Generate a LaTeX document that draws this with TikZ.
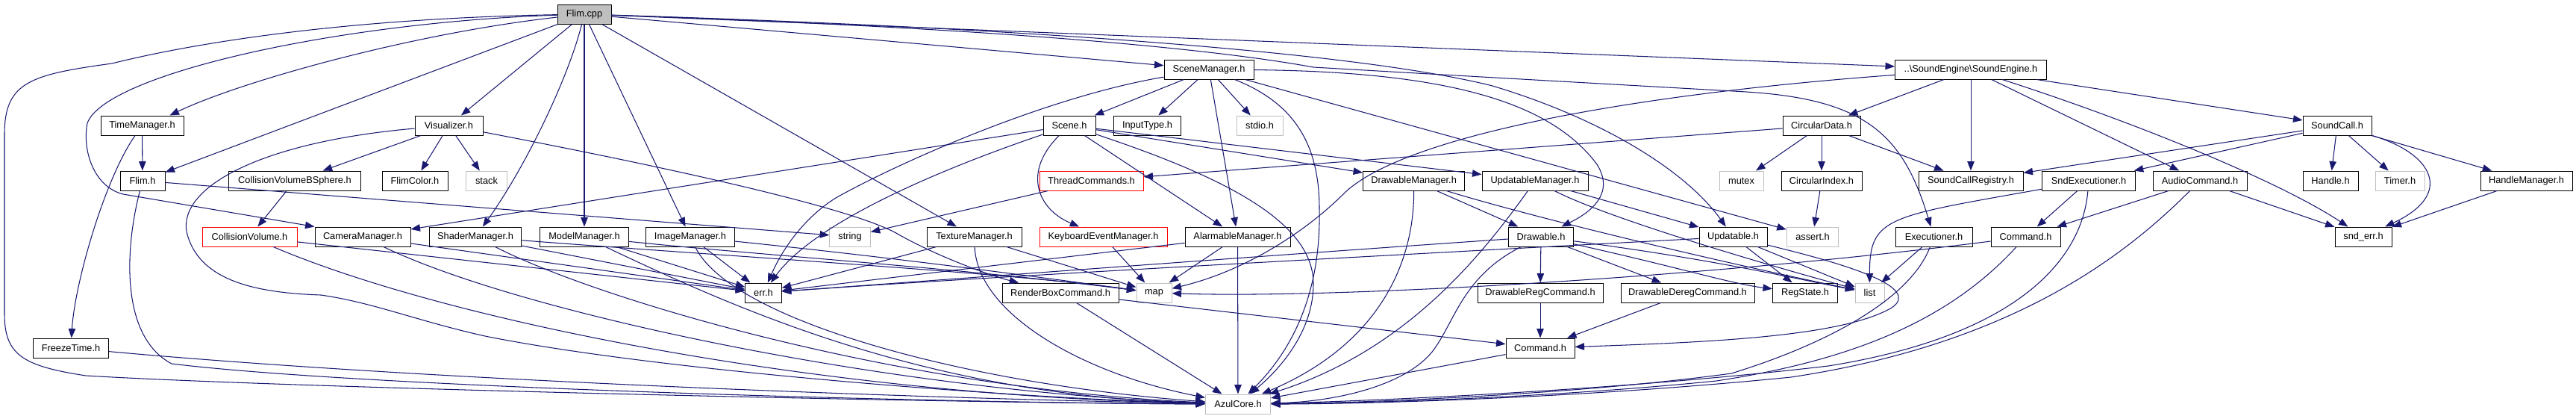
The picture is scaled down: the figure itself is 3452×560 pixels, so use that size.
\documentclass[tikz,border=0pt]{standalone}
\usepackage{fontspec}
\setmainfont{Liberation Sans}
\usetikzlibrary{arrows.meta}
\definecolor{eb}{HTML}{191970}
\definecolor{gb}{HTML}{BFBFBF}
\begin{document}
\begin{tikzpicture}[x=1pt,y=-1pt,
  nd/.style={draw=black, line width=1pt, fill=white, minimum height=26pt, inner sep=0pt, font=\fontsize{12.8}{14}\selectfont},
  gn/.style={nd, draw=gb},
  rn/.style={nd, draw=red},
  e/.style={draw=eb, line width=1.05pt, -{Triangle[length=12.5pt,width=9.5pt]}}]
\useasboundingbox (0,0) rectangle (3452,560);
% row 0
\node[nd, fill=gb, minimum width=72pt] (flimcpp) at (783,19) {Flim.cpp};
% row 1
\node[nd, minimum width=120pt] (scenemgr) at (1620,93) {SceneManager.h};
\node[nd, minimum width=203pt] (soundeng) at (2641,93) {..\textbackslash SoundEngine\textbackslash SoundEngine.h};
% row 2
\node[nd, minimum width=111pt] (timemgr) at (190.5,168) {TimeManager.h};
\node[nd, minimum width=91pt] (visualizer) at (601.5,168) {Visualizer.h};
\node[nd, minimum width=70pt] (scene) at (1433,168) {Scene.h};
\node[nd, minimum width=90pt] (inputtype) at (1537.5,168) {InputType.h};
\node[gn, minimum width=62pt] (stdio) at (1688,168) {stdio.h};
\node[nd, minimum width=104pt] (circdata) at (2441,168) {CircularData.h};
\node[nd, minimum width=92pt] (soundcall) at (3132,168) {SoundCall.h};
% row 3
\node[nd, minimum width=60pt] (flimh) at (191,242) {Flim.h};
\node[nd, minimum width=177pt] (cvbs) at (395,242) {CollisionVolumeBSphere.h};
\node[nd, minimum width=88pt] (flimcolor) at (556,242) {FlimColor.h};
\node[gn, minimum width=55pt] (stack) at (652,242) {stack};
\node[rn, minimum width=139pt] (threadcmds) at (1462.5,242) {ThreadCommands.h};
\node[nd, minimum width=136pt] (drawmgr) at (1894.6,242) {DrawableManager.h};
\node[nd, minimum width=142pt] (updmgr) at (2057,242) {UpdatableManager.h};
\node[gn, minimum width=59pt] (mutex) at (2333.5,242) {mutex};
\node[nd, minimum width=108pt] (circindex) at (2441,242) {CircularIndex.h};
\node[nd, minimum width=140pt] (screg) at (2641,242) {SoundCallRegistry.h};
\node[nd, minimum width=125.5pt] (sndexec) at (2799,242) {SndExecutioner.h};
\node[nd, minimum width=126pt] (audiocmd) at (2948,242) {AudioCommand.h};
\node[nd, minimum width=74pt] (handle) at (3123,242) {Handle.h};
\node[gn, minimum width=66pt] (timer) at (3216,242) {Timer.h};
\node[nd, minimum width=123pt] (handlemgr) at (3385.5,242) {HandleManager.h};
% row 4
\node[rn, minimum width=127pt] (cv) at (334.5,317) {CollisionVolume.h};
\node[nd, minimum width=128pt] (cammgr) at (486,317) {CameraManager.h};
\node[nd, minimum width=123.5pt] (shadermgr) at (637,317) {ShaderManager.h};
\node[nd, minimum width=118.5pt] (modelmgr) at (783,317) {ModelManager.h};
\node[nd, minimum width=118.5pt] (imagemgr) at (925,317) {ImageManager.h};
\node[gn, minimum width=54.5pt] (string) at (1139,317) {string};
\node[nd, minimum width=127pt] (texmgr) at (1305.5,317) {TextureManager.h};
\node[rn, minimum width=171pt] (kbmgr) at (1478.5,317) {KeyboardEventManager.h};
\node[nd, minimum width=141pt] (alarmmgr) at (1658.5,317) {AlarmableManager.h};
\node[nd, minimum width=86.5pt] (drawable) at (2065,317) {Drawable.h};
\node[nd, minimum width=91pt] (updatable) at (2322.5,317) {Updatable.h};
\node[gn, minimum width=69.5pt] (assert) at (2429,317) {assert.h};
\node[nd, minimum width=103pt] (executioner) at (2591.5,317) {Executioner.h};
\node[nd, minimum width=93pt] (cmdA) at (2714.5,317) {Command.h};
\node[nd, minimum width=76pt] (snderr) at (3167,317) {snd\_err.h};
% row 5
\node[nd, minimum width=48.5pt] (err) at (1023,392) {err.h};
\node[nd, minimum width=156pt] (renderbox) at (1421,392) {RenderBoxCommand.h};
\node[gn, minimum width=47pt] (map) at (1546.5,392) {map};
\node[nd, minimum width=168pt] (drawreg) at (2064,392) {DrawableRegCommand.h};
\node[nd, minimum width=179pt] (drawdereg) at (2261.5,392) {DrawableDeregCommand.h};
\node[nd, minimum width=87pt] (regstate) at (2419,392) {RegState.h};
\node[gn, minimum width=39pt] (list) at (2505.5,392) {list};
% row 6
\node[nd, minimum width=101pt] (freeze) at (95,466) {FreezeTime.h};
\node[nd, minimum width=92pt] (cmdB) at (2064,466) {Command.h};
% row 7
\node[gn, minimum width=87pt] (azul) at (1659,541) {AzulCore.h};

% ---- Flim.cpp
\draw[e] (flimcpp) .. controls (450,25) and (250,60) .. (150,85) .. controls (40,100) and (6,110) .. (6,180) -- (6,420) .. controls (6,475) and (30,490) .. (115,503) .. controls (400,520) and (1300,540) .. (azul);
\draw[e] (flimcpp) .. controls (450,30) and (140,100) .. (117,165) .. controls (110,200) and (125,250) .. (165,260) -- (cammgr.north west);
\draw[e] (flimcpp) .. controls (550,45) and (320,110) .. ([xshift=37pt]timemgr.north);
\draw[e] (flimcpp) -- (flimh);
\draw[e] (flimcpp) -- (visualizer);
\draw[e] (flimcpp) .. controls (760,110) and (700,230) .. (shadermgr);
\draw[e] (flimcpp) -- (modelmgr);
\draw[e] (flimcpp) -- (imagemgr);
\draw[e] (flimcpp) -- (texmgr);
\draw[e] (flimcpp) -- (scenemgr);
\draw[e] (flimcpp) -- (soundeng);
\draw[e] (flimcpp) .. controls (1300,35) and (1800,65) .. (2000,115) .. controls (2150,160) and (2260,230) .. (updatable);
\draw[e] (flimcpp) .. controls (1400,40) and (1650,70) .. (1760,90) .. controls (2000,104) and (2200,115) .. (2340,123) .. controls (2500,133) and (2550,180) .. (executioner);
% ---- SceneManager
\draw[e] (scenemgr) -- (scene);
\draw[e] (scenemgr) -- (inputtype);
\draw[e] (scenemgr) -- (stdio);
\draw[e] (scenemgr) -- (alarmmgr);
\draw[e] (scenemgr) .. controls (1740,140) and (1768,200) .. (1768,280) .. controls (1770,380) and (1740,460) .. (azul);
\draw[e] (scenemgr) .. controls (1400,130) and (1200,220) .. (1120,265) .. controls (1080,290) and (1050,330) .. (err);
\draw[e] (scenemgr) -- (assert);
\draw[e] (scenemgr) .. controls (1950,96) and (2080,140) .. (2140,220) .. controls (2165,260) and (2130,285) .. (drawable);
% ---- Scene
\draw[e] (scene) -- (cammgr);
\draw[e] (scene) .. controls (1250,230) and (1090,300) .. (err);
\draw[e] (scene) .. controls (1370,230) and (1390,280) .. (kbmgr);
\draw[e] (scene) -- (alarmmgr);
\draw[e] (scene) .. controls (1650,240) and (1760,300) .. (1760,380) .. controls (1760,440) and (1720,490) .. (azul);
\draw[e] (scene) -- (updmgr);
\draw[e] (scene) -- (drawmgr);
\draw[e] (threadcmds) -- (string);
% ---- CircularData
\draw[e] (circdata) -- (threadcmds);
\draw[e] (circdata) -- (mutex);
\draw[e] (circdata) -- (circindex);
\draw[e] (circdata) -- (screg);
\draw[e] (circindex) -- (assert);
% ---- SoundEngine
\draw[e] (soundeng) -- (circdata);
\draw[e] (soundeng) -- (screg);
\draw[e] (soundeng) -- (audiocmd);
\draw[e] (soundeng) .. controls (2850,160) and (3050,240) .. (snderr);
\draw[e] (soundeng) -- (soundcall);
\draw[e] (soundeng) .. controls (2200,125) and (1880,180) .. (1800,260) .. controls (1760,300) and (1680,360) .. (map);
% ---- SoundCall
\draw[e] (soundcall) -- (screg);
\draw[e] (soundcall) -- (sndexec);
\draw[e] (soundcall) -- (handle);
\draw[e] (soundcall) -- (timer);
\draw[e] (soundcall) -- (handlemgr);
\draw[e] (soundcall) .. controls (3260,205) and (3290,260) .. (snderr);
\draw[e] (handlemgr) -- (snderr);
% ---- AudioCommand
\draw[e] (audiocmd) -- (cmdA);
\draw[e] (audiocmd) -- (snderr);
\draw[e] (audiocmd) .. controls (2850,340) and (2700,460) .. (2400,505) .. controls (2100,535) and (1800,541) .. (azul);
% ---- SndExecutioner
\draw[e] (sndexec) -- (cmdA);
\draw[e] (sndexec) .. controls (2530,290) and (2505,290) .. (list);
\draw[e] (sndexec) .. controls (2790,350) and (2700,450) .. (2450,490) .. controls (2150,525) and (1800,538) .. (azul);
% ---- Executioner
\draw[e] (executioner) -- (list);
\draw[e] (executioner) .. controls (2560,400) and (2450,460) .. (2320,500) .. controls (2100,530) and (1800,540) .. (azul);
% ---- Command (row 4)
\draw[e] (cmdA) .. controls (2300,370) and (1800,400) .. (map);
\draw[e] (cmdA) .. controls (2620,420) and (2500,480) .. (2300,510) .. controls (2050,535) and (1800,540) .. (azul);
% ---- Updatable
\draw[e] (updatable) -- (regstate);
\draw[e] (updatable) -- (list);
\draw[e] (updatable) .. controls (2480,355) and (2575,385) .. (2535,412) .. controls (2470,450) and (2300,458) .. (cmdB);
\draw[e] (updatable) .. controls (1800,345) and (1300,372) .. (err);
% ---- Drawable
\draw[e] (drawable) -- (drawreg);
\draw[e] (drawable) -- (drawdereg);
\draw[e] (drawable) .. controls (2300,348) and (2400,372) .. (list);
\draw[e] (drawable) .. controls (2250,358) and (2320,380) .. (regstate);
\draw[e] (drawable) .. controls (1700,342) and (1300,372) .. (err);
\draw[e] (drawable) .. controls (1960,370) and (1950,430) .. (1920,470) .. controls (1880,520) and (1780,538) .. (azul);
\draw[e] (drawreg) -- (cmdB);
\draw[e] (drawdereg) -- (cmdB);
\draw[e] (cmdB) -- (azul);
% ---- DrawableManager / UpdatableManager
\draw[e] (drawmgr) -- (drawable);
\draw[e] (drawmgr) .. controls (1895,350) and (1850,460) .. (azul);
\draw[e] (drawmgr) .. controls (2050,290) and (2300,350) .. (list);
\draw[e] (updmgr) -- (updatable);
\draw[e] (updmgr) .. controls (2150,290) and (2350,350) .. (list);
\draw[e] (updmgr) .. controls (1980,350) and (1880,470) .. (azul);
% ---- RenderBox, Alarmable, Keyboard
\draw[e] (renderbox) -- (cmdB);
\draw[e] (renderbox) -- (azul);
\draw[e] (alarmmgr) -- (map);
\draw[e] (alarmmgr) -- (azul);
\draw[e] (alarmmgr) -- (err);
\draw[e] (kbmgr) -- (map);
% ---- Texture, Image, Model, Shader
\draw[e] (texmgr) -- (map);
\draw[e] (texmgr) .. controls (1310,420) and (1450,500) .. (azul);
\draw[e] (texmgr) -- (err);
\draw[e] (imagemgr) -- (err);
\draw[e] (imagemgr) .. controls (1200,345) and (1400,372) .. (map);
\draw[e] (imagemgr) .. controls (980,430) and (1300,515) .. (azul);
\draw[e] (modelmgr) -- (err);
\draw[e] (modelmgr) .. controls (1000,340) and (1300,360) .. (map);
\draw[e] (modelmgr) .. controls (1000,420) and (1250,530) .. (azul);
\draw[e] (shadermgr) -- (err);
\draw[e] (shadermgr) .. controls (1000,345) and (1350,365) .. (map);
\draw[e] (shadermgr) .. controls (800,400) and (1200,520) .. (azul);
% ---- Camera, CollisionVolume
\draw[e] (cammgr) -- (err);
\draw[e] (cammgr) .. controls (700,420) and (1200,525) .. (azul);
\draw[e] (cv) -- (err);
\draw[e] (cv) .. controls (600,430) and (1100,530) .. (azul);
\draw[e] (cvbs) -- (cv);
% ---- Visualizer
\draw[e] (visualizer) -- (cvbs);
\draw[e] (visualizer) -- (flimcolor);
\draw[e] (visualizer) -- (stack);
\draw[e] (visualizer) .. controls (350,190) and (240,250) .. (250,310) .. controls (265,375) and (340,392) .. (430,395) .. controls (500,405) and (560,430) .. (650,450) .. controls (900,500) and (1400,535) .. (azul);
\draw[e] (visualizer) .. controls (900,225) and (1150,280) .. (1206,315) .. controls (1260,345) and (1330,370) .. (renderbox);
% ---- Flim.h, TimeManager, FreezeTime
\draw[e] (flimh) -- (string);
\draw[e] (flimh) .. controls (168,330) and (160,450) .. (230,487) .. controls (500,520) and (1300,540) .. (azul);
\draw[e] (timemgr) -- (flimh);
\draw[e] (timemgr) .. controls (140,240) and (100,380) .. (freeze);
\draw[e] (freeze) .. controls (600,512) and (1300,535) .. (azul);
\end{tikzpicture}
\end{document}
